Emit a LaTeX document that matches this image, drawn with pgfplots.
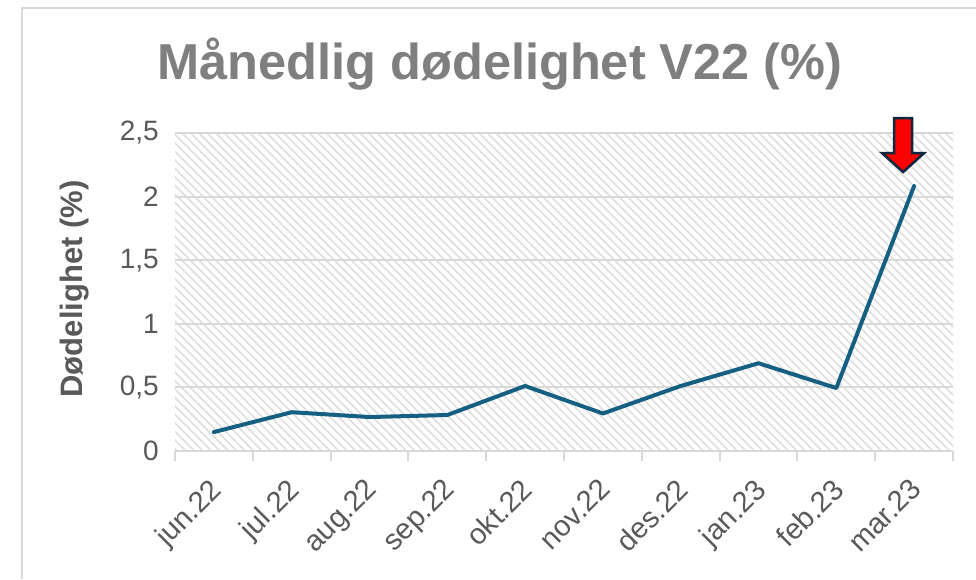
\documentclass[border=0pt]{standalone}
\usepackage{pgfplots}
\pgfplotsset{compat=1.18}
\usepackage{fontspec}
\setmainfont{Liberation Sans}
\usetikzlibrary{patterns.meta}
\definecolor{linec}{HTML}{156082}
\definecolor{gridc}{HTML}{D9D9D9}
\definecolor{txtc}{HTML}{595959}
\definecolor{titc}{HTML}{7F7F7F}
\definecolor{hatc}{HTML}{DEDEDE}
\definecolor{navy}{HTML}{0E2841}
\begin{document}
\begin{tikzpicture}
\useasboundingbox (0,0) rectangle (976pt,579pt);
\fill[white] (0,0) rectangle (976pt,579pt);
\draw[gridc, line width=2pt] (22pt,0) -- (22pt,571pt) -- (976pt,571pt);
\node[anchor=base, text=titc, font=\fontsize{50.5}{60}\selectfont\bfseries] at (500pt,499pt) {Månedlig dødelighet V22 (\%)};
\begin{axis}[
  at={(175pt,128pt)}, anchor=south west,
  width=778pt, height=318pt, scale only axis,
  xmin=0, xmax=10, ymin=0, ymax=2.5,
  axis background/.style={pattern={Lines[angle=-45,distance=6pt,line width=1.6pt]}, pattern color=hatc},
  axis x line*=bottom, axis y line*=left,
  x axis line style={gridc, line width=2pt, -},
  y axis line style={draw=none},
  xtick={0,1,...,10},
  xticklabels={},
  major x tick style={gridc, line width=2pt},
  xtick align=outside,
  major tick length=10pt,
  extra x ticks={0.5,1.5,...,9.5},
  extra x tick labels={jun.22,jul.22,aug.22,sep.22,okt.22,nov.22,des.22,jan.23,feb.23,mar.23},
  extra x tick style={major tick length=0pt, major x tick style={draw=none},
    xticklabel style={rotate=45, anchor=north east, font=\fontsize{29}{31}\selectfont, text=txtc, inner sep=0pt, xshift=-22pt, yshift=-14pt}},
  ytick={0,0.5,1,1.5,2,2.5},
  yticklabels={0,{0,5},1,{1,5},2,{2,5}},
  ymajorgrids,
  y grid style={gridc, line width=2pt},
  major y tick style={draw=none},
  yticklabel style={font=\fontsize{28}{30}\selectfont, text=txtc, anchor=east, inner sep=0pt, xshift=-16pt},
  clip=false,
]
\addplot[linec, line width=4pt, line join=round, line cap=round] coordinates {
(0.5,0.149) (1.5,0.305) (2.5,0.267) (3.5,0.283) (4.5,0.511)
(5.5,0.295) (6.5,0.511) (7.5,0.69) (8.5,0.495) (9.5,2.083)};
\draw[navy, fill=red, line width=2.5pt, line join=miter]
  ([shift={(-11pt,14pt)}]axis cs:9.5,2.083) -- ++(-21pt,19pt) -- ++(12pt,0) -- ++(0,35pt) -- ++(18pt,0) -- ++(0,-35pt) -- ++(12pt,0) -- cycle;
\end{axis}
\node[rotate=90, anchor=center, text=txtc, font=\fontsize{31}{34}\selectfont\bfseries] at (75pt,290pt) {Dødelighet (\%)};
\end{tikzpicture}
\end{document}
